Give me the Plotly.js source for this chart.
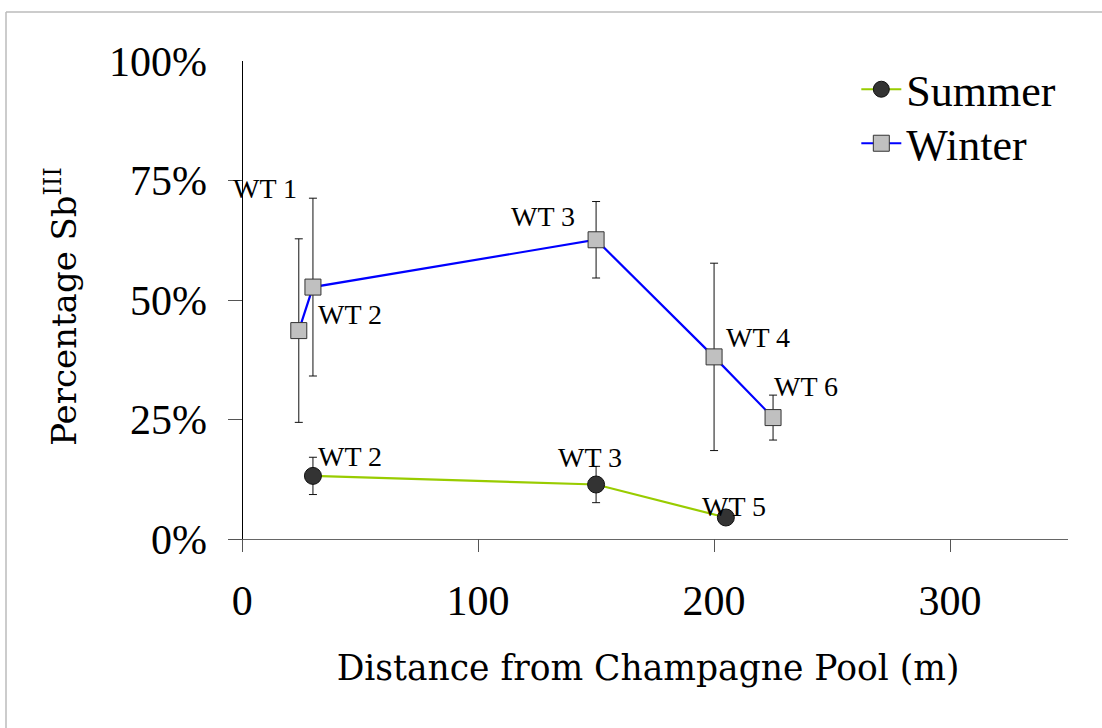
<!DOCTYPE html>
<html>
<head>
<meta charset="utf-8">
<script src="https://cdn.plot.ly/plotly-3.0.1.min.js"></script>
<style>html,body{margin:0;padding:0;background:#fff;}#chart{width:1102px;height:728px;}</style>
</head>
<body>
<div id="chart"></div>
<script>
// Summer series
const summerX = [30, 150, 205];
const summerY = [0.132, 0.114, 0.045];
const summerErr = [0.039, 0.038, 0];
const summerLabels = ["WT 2", "WT 3", "WT 5"];

// Winter series
const winterX = [24, 30, 150, 200, 225];
const winterY = [0.436, 0.527, 0.626, 0.381, 0.254];
const winterErr = [0.192, 0.186, 0.080, 0.196, 0.047];
const winterLabels = ["WT 1", "WT 2", "WT 3", "WT 4", "WT 6"];

const xTicks = [0, 100, 200, 300];
const yTicks = [0, 0.25, 0.5, 0.75, 1.0];

const SERIF = "Liberation Serif, serif";
const WIDE = "DejaVu Serif, serif";

// label offsets (pixels) for each point label
const summerOff = [[37, 19], [-6, 27], [8, 11]];
const winterOff = [[-34, 142], [37, -27], [-53, 23], [44, 19], [33, 31]];

const traces = [
  {
    name: "Summer", x: summerX, y: summerY, mode: "lines+markers", type: "scatter", legend: "legend",
    line: {color: "#99CC00", width: 2.2},
    marker: {symbol: "circle", size: 17, color: "#333333", line: {color: "#111111", width: 1}},
    error_y: {type: "data", array: summerErr, visible: true, color: "#111111", thickness: 1, width: 4}
  },
  {
    name: "Winter", x: winterX, y: winterY, mode: "lines+markers", type: "scatter", legend: "legend2",
    line: {color: "#0000FF", width: 2.2},
    marker: {symbol: "square", size: 16, color: "#C0C0C0", line: {color: "#333333", width: 1}},
    error_y: {type: "data", array: winterErr, visible: true, color: "#111111", thickness: 1, width: 4}
  }
];

const annotations = [];
summerX.forEach((x, i) => annotations.push({
  x: x, y: summerY[i], xref: "x", yref: "y", text: summerLabels[i], showarrow: false,
  xshift: summerOff[i][0], yshift: summerOff[i][1], font: {family: SERIF, size: 28, color: "#000"}
}));
winterX.forEach((x, i) => annotations.push({
  x: x, y: winterY[i], xref: "x", yref: "y", text: winterLabels[i], showarrow: false,
  xshift: winterOff[i][0], yshift: winterOff[i][1], font: {family: SERIF, size: 28, color: "#000"}
}));

const legendBase = {x: 0.748, xanchor: "left", yanchor: "top", bgcolor: "rgba(0,0,0,0)",
                    font: {family: SERIF, size: 44}, itemwidth: 40};

const layout = {
  width: 1102, height: 728,
  margin: {l: 228, r: 34, t: 61, b: 176},
  paper_bgcolor: "#fff", plot_bgcolor: "#fff",
  font: {family: SERIF, color: "#000"},
  showlegend: true,
  legend: Object.assign({}, legendBase, {y: 1.014}),
  legend2: Object.assign({}, legendBase, {y: 0.904}),
  xaxis: {
    range: [-6, 350], tickvals: xTicks, ticktext: xTicks.map(String),
    showgrid: false, showline: false, zeroline: true, zerolinecolor: "#000", zerolinewidth: 1,
    ticks: "inside", ticklen: 13, tickcolor: "#555", tickwidth: 1,
    tickfont: {family: SERIF, size: 42}, ticklabelstandoff: 20,
    title: {text: "Distance from Champagne Pool (m)", font: {family: WIDE, size: 34.5}, standoff: 32}
  },
  yaxis: {
    range: [-0.0272, 1.0], tickvals: yTicks, ticktext: yTicks.map(v => Math.round(v * 100) + "%"),
    showgrid: false, showline: false, zeroline: true, zerolinecolor: "#666", zerolinewidth: 1,
    ticks: "inside", ticklen: 14, tickcolor: "#555", tickwidth: 1,
    tickfont: {family: SERIF, size: 42}, ticklabelstandoff: 20,
    title: {text: "Percentage Sb<sup>III</sup>", font: {family: WIDE, size: 34}, standoff: 22}
  },
  annotations: annotations,
  shapes: [
    {type: "line", xref: "paper", yref: "paper", x0: (6 - 228) / 840, x1: (1110 - 228) / 840,
     y0: (552 - 12) / 491, y1: (552 - 12) / 491, line: {color: "#BBBBBB", width: 1.5}},
    {type: "line", xref: "paper", yref: "paper", x0: (6 - 228) / 840, x1: (6 - 228) / 840,
     y0: (552 - 12) / 491, y1: (552 - 740) / 491, line: {color: "#BBBBBB", width: 1.5}}
  ]
};

Plotly.newPlot("chart", traces, layout, {displayModeBar: false, staticPlot: true});
</script>
</body>
</html>
